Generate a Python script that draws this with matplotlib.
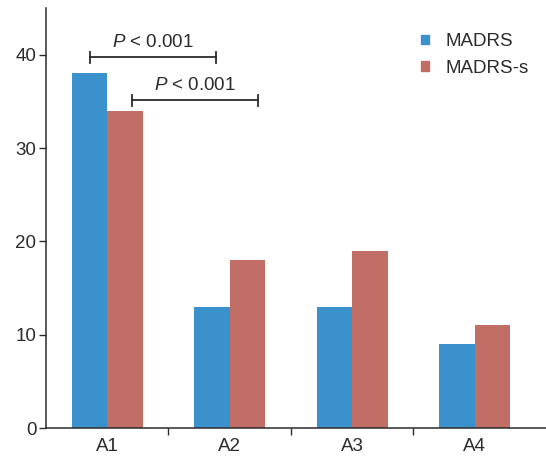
import matplotlib
matplotlib.use("Agg")
import matplotlib.pyplot as plt
import numpy as np
from matplotlib.patches import Patch

plt.rcParams["font.family"] = ["Liberation Sans", "DejaVu Sans"]
plt.rcParams["mathtext.fontset"] = "custom"
plt.rcParams["mathtext.it"] = "Liberation Sans:italic"
plt.rcParams["mathtext.rm"] = "Liberation Sans"

groups = ["A1", "A2", "A3", "A4"]
madrs = [38, 13, 13, 9]
madrs_s = [34, 18, 19, 11]
series_names = ["MADRS", "MADRS-s"]
colors = ["#3b91cc", "#c06e66"]
txt = "#2b2b2b"
fs = 13.5

fig = plt.figure(figsize=(5.46, 4.59), dpi=100)
ax = fig.add_axes([0.0842, 0.0675, 0.915, 0.915])

x = np.arange(len(groups))
w = 0.29
ax.bar(x - w / 2, madrs, w, color=colors[0], edgecolor="none")
ax.bar(x + w / 2, madrs_s, w, color=colors[1], edgecolor="none")

ax.set_xlim(-0.5, 3.58)
ax.set_ylim(0, 45)
ax.set_yticks([0, 10, 20, 30, 40])
ax.set_xticks(x)
ax.set_xticklabels(groups)
ax.set_xticks(np.arange(0.5, 3, 1), minor=True)
ax.tick_params(axis="x", which="major", length=0, pad=7)
ax.tick_params(axis="x", which="minor", length=5, width=1, color=txt)
ax.tick_params(axis="y", length=5, width=1, color=txt, pad=2)
ax.tick_params(labelsize=fs, labelcolor=txt)
for s in ["top", "right"]:
    ax.spines[s].set_visible(False)
for s in ["left", "bottom"]:
    ax.spines[s].set_color(txt)
    ax.spines[s].set_linewidth(1.1)


def bracket(x0, x1, y, label):
    ax.plot([x0, x1], [y, y], color=txt, lw=1.3)
    for xx in (x0, x1):
        ax.plot([xx, xx], [y - 0.55, y + 0.55], color=txt, lw=1.3)
    ax.text((x0 + x1) / 2, y + 0.7, label, ha="center", va="bottom",
            fontsize=fs, color=txt)


bracket(-0.14, 0.89, 39.7, r"$P$ < 0.001")
bracket(0.20, 1.23, 35.1, r"$P$ < 0.001")

handles = [Patch(color=c, label=n) for c, n in zip(colors, series_names)]
ax.legend(handles=handles, loc="upper right", bbox_to_anchor=(1.0, 0.98), frameon=False,
          fontsize=fs, handlelength=0.4, handleheight=0.4, handletextpad=0.9,
          labelspacing=0.5, labelcolor=txt)

fig.savefig("out.png", dpi=100)
